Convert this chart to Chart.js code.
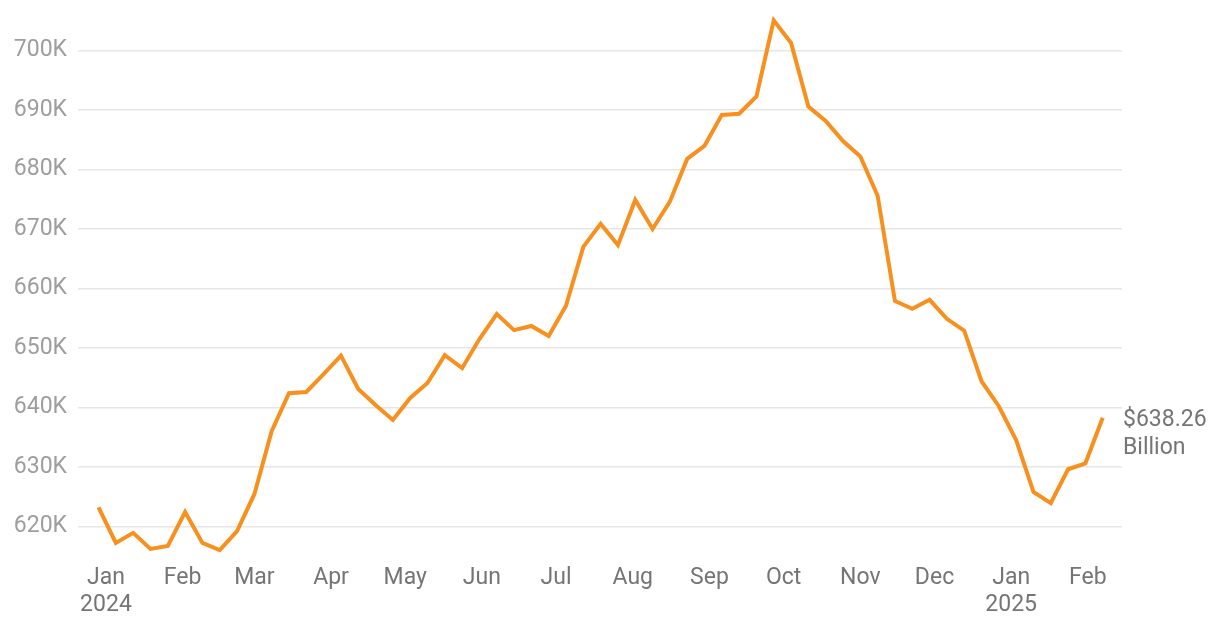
<!DOCTYPE html>
<html>
<head>
<meta charset="utf-8">
<script src="https://cdn.jsdelivr.net/npm/chart.js@4"></script>
<style>
  html, body { margin: 0; padding: 0; background: #fff; }
  canvas { display: block; }
</style>
</head>
<body>
<canvas id="chart" width="1220" height="630"></canvas>
<script>
// weekly observations (Fridays)
var weekDates = [
  '2023-12-29', '2024-01-05', '2024-01-12', '2024-01-19', '2024-01-26',
  '2024-02-02', '2024-02-09', '2024-02-16', '2024-02-23', '2024-03-01',
  '2024-03-08', '2024-03-15', '2024-03-22', '2024-03-29', '2024-04-05',
  '2024-04-12', '2024-04-19', '2024-04-26', '2024-05-03', '2024-05-10',
  '2024-05-17', '2024-05-24', '2024-05-31', '2024-06-07', '2024-06-14',
  '2024-06-21', '2024-06-28', '2024-07-05', '2024-07-12', '2024-07-19',
  '2024-07-26', '2024-08-02', '2024-08-09', '2024-08-16', '2024-08-23',
  '2024-08-30', '2024-09-06', '2024-09-13', '2024-09-20', '2024-09-27',
  '2024-10-04', '2024-10-11', '2024-10-18', '2024-10-25', '2024-11-01',
  '2024-11-08', '2024-11-15', '2024-11-22', '2024-11-29', '2024-12-06',
  '2024-12-13', '2024-12-20', '2024-12-27', '2025-01-03', '2025-01-10',
  '2025-01-17', '2025-01-24', '2025-01-31', '2025-02-07'
];
// values in thousands (K)
var values = [
  623.2, 617.2, 618.9, 616.2, 616.7, 622.4, 617.2, 616.0, 619.2, 625.4,
  636.0, 642.4, 642.6, 645.6, 648.7, 643.1, 640.4, 637.9, 641.6, 644.1,
  648.8, 646.6, 651.5, 655.7, 653.0, 653.7, 652.0, 657.1, 667.0, 670.9,
  667.3, 674.9, 670.0, 674.6, 681.8, 684.0, 689.2, 689.4, 692.3, 705.1,
  701.3, 690.6, 688.2, 684.8, 682.2, 675.6, 657.9, 656.6, 658.1, 654.9,
  652.9, 644.4, 640.2, 634.5, 625.8, 623.9, 629.6, 630.6, 638.26
];
var monthStarts = [
  '2024-01-01', '2024-02-01', '2024-03-01', '2024-04-01', '2024-05-01',
  '2024-06-01', '2024-07-01', '2024-08-01', '2024-09-01', '2024-10-01',
  '2024-11-01', '2024-12-01', '2025-01-01', '2025-02-01'
];
var monthLabels = [
  ['Jan', '2024'], 'Feb', 'Mar', 'Apr', 'May', 'Jun', 'Jul', 'Aug', 'Sep',
  'Oct', 'Nov', 'Dec', ['Jan', '2025'], 'Feb'
];
var endLabel = ['$638.26', 'Billion'];

var DAY = 86400000;
var origin = Date.UTC(2024, 0, 1);
function dayOf(s) { return (Date.parse(s + 'T00:00:00Z') - origin) / DAY; }

var monthDays = monthStarts.map(dayOf);
var points = weekDates.map(function (d, i) { return { x: dayOf(d), y: values[i] }; });

var lineColor = '#f7901e';

var endLabelPlugin = {
  id: 'endLabel',
  afterDatasetsDraw: function (chart) {
    var meta = chart.getDatasetMeta(0);
    var last = meta.data[meta.data.length - 1];
    var ctx = chart.ctx;
    ctx.save();
    ctx.font = '23px Roboto';
    ctx.fillStyle = '#757575';
    ctx.textAlign = 'left';
    ctx.textBaseline = 'middle';
    ctx.fillText(endLabel[0], chart.chartArea.right + 1, last.y + 2);
    ctx.fillText(endLabel[1], chart.chartArea.right + 1, last.y + 30);
    ctx.restore();
  }
};

var ctx = document.getElementById('chart').getContext('2d');
new Chart(ctx, {
  type: 'line',
  data: {
    datasets: [{
      data: points,
      borderColor: lineColor,
      borderWidth: 4,
      pointRadius: 0,
      tension: 0,
      fill: false
    }]
  },
  options: {
    responsive: false,
    animation: false,
    layout: { padding: { top: 15, right: 98, left: 0, bottom: 0 } },
    plugins: {
      legend: { display: false },
      tooltip: { enabled: false }
    },
    scales: {
      x: {
        type: 'linear',
        min: -11.3,
        max: 410.8,
        border: { display: false },
        grid: { display: false, drawTicks: false },
        afterBuildTicks: function (scale) {
          scale.ticks = monthDays.map(function (v) { return { value: v }; });
        },
        afterFit: function (scale) {
          scale.height = 68;
          scale.paddingLeft = 0;
          scale.paddingRight = 0;
        },
        ticks: {
          autoSkip: false,
          maxRotation: 0,
          padding: 2,
          color: '#757575',
          font: { family: 'Roboto', size: 23, lineHeight: 1.2 },
          callback: function (value, index) { return monthLabels[index]; }
        }
      },
      y: {
        min: 614,
        max: 706,
        border: { display: false },
        afterBuildTicks: function (scale) {
          var t = [];
          for (var v = 620; v <= 700; v += 10) t.push({ value: v });
          scale.ticks = t;
        },
        afterFit: function (scale) {
          scale.width = 78;
          scale.paddingTop = 0;
          scale.paddingBottom = 0;
        },
        grid: { color: '#e6e6e6', lineWidth: 1.5, drawTicks: false },
        ticks: {
          padding: 11,
          color: '#9e9e9e',
          font: { family: 'Roboto', size: 23 },
          callback: function (value) { return value + 'K'; }
        }
      }
    }
  },
  plugins: [endLabelPlugin]
});
</script>
</body>
</html>
